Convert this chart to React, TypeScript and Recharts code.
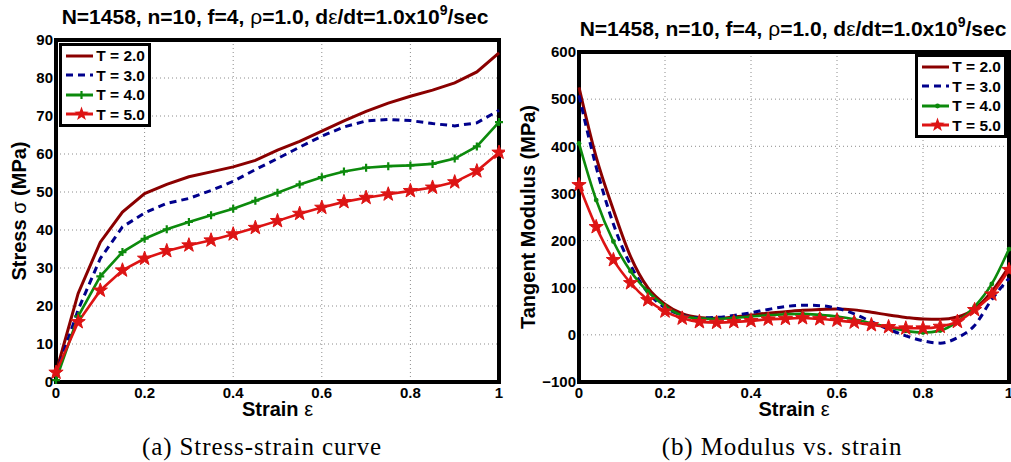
import React from "react";
import { CartesianGrid, Label, Legend, Line, LineChart, ReferenceArea, XAxis, YAxis } from "recharts";

// left panel: stress vs strain, sampled every 0.05
const strainA = [0, 0.05, 0.1, 0.15, 0.2, 0.25, 0.3, 0.35, 0.4, 0.45, 0.5, 0.55, 0.6, 0.65, 0.7, 0.75, 0.8, 0.85, 0.9, 0.95, 1];
const stressT2 = [2.5, 23.3, 36.8, 44.7, 49.6, 52, 54, 55.3, 56.6, 58.3, 61, 63.3, 66, 68.7, 71.2, 73.4, 75.2, 76.8, 78.7, 81.6, 86.6];
const stressT3 = [2, 19, 32.5, 40.8, 44.5, 47, 48.3, 50.4, 52.8, 55.9, 58.8, 61.8, 64.7, 67.1, 68.7, 69.1, 68.8, 68, 67.4, 68.2, 71.5];
const stressT4 = [0.5, 17.3, 27.8, 34.2, 37.7, 40.2, 42.1, 43.9, 45.6, 47.7, 49.8, 52, 53.9, 55.4, 56.4, 56.8, 57, 57.4, 58.8, 62, 68.4];
const stressT5 = [2.5, 15.8, 24.1, 29.4, 32.5, 34.5, 36, 37.3, 38.9, 40.6, 42.4, 44.3, 45.9, 47.4, 48.5, 49.4, 50.3, 51.2, 52.6, 55.5, 60.4];

// right panel: tangent modulus vs strain, sampled every 0.04
const strainB = [0, 0.04, 0.08, 0.12, 0.16, 0.2, 0.24, 0.28, 0.32, 0.36, 0.4, 0.44, 0.48, 0.52, 0.56, 0.6, 0.64, 0.68, 0.72, 0.76, 0.8, 0.84, 0.88, 0.92, 0.96, 1];
const modT2 = [525, 377, 265, 166, 100, 65, 45, 37, 35, 38, 42, 46, 49, 52, 54, 55, 53, 48, 42, 37, 33.5, 33, 38, 55, 92, 145];
const modT3 = [508, 356, 235, 148, 90, 58, 42, 36, 37, 41, 47, 54, 60, 63, 62, 56.5, 44.5, 28, 12, -2, -12.7, -17.6, -6, 20, 75, 120];
const modT4 = [406, 286, 198, 135, 92, 61, 41, 34.5, 33.6, 36, 38.8, 41.7, 43.8, 44.5, 42.3, 38.8, 33, 24.7, 16.3, 8.5, 5, 9, 28, 60, 108, 182];
const modT5 = [318, 229, 159, 110, 74, 50, 35, 27.5, 26, 27.5, 29.6, 33, 34.3, 35.7, 33.6, 30.8, 26.6, 21, 16.8, 14, 14, 17.5, 28, 53, 86, 138];

const xTicks = [0, 0.2, 0.4, 0.6, 0.8, 1];
const stressTicks = [0, 10, 20, 30, 40, 50, 60, 70, 80, 90];
const modulusTicks = [-100, 0, 100, 200, 300, 400, 500, 600];
const tempLabels = ["T = 2.0", "T = 3.0", "T = 4.0", "T = 5.0"];

const stressRows = strainA.map((x, i) => ({ x, t2: stressT2[i], t3: stressT3[i], t4: stressT4[i], t5: stressT5[i] }));
const modulusRows = strainB.map((x, i) => ({ x, t2: modT2[i], t3: modT3[i], t4: modT4[i], t5: modT5[i] }));

const DARK_RED = "#8a0000";
const NAVY = "#00008c";
const GREEN = "#0c8a0c";
const RED = "#dd1414";
const SANS = '"Liberation Sans", Arial, sans-serif';
const SERIF = '"Liberation Serif", "Times New Roman", serif';

const tickStyle = { fill: "#000", fontSize: 15, fontWeight: 700, fontFamily: SANS };

function starPoints(cx: number, cy: number, R: number, r: number) {
  const pts: string[] = [];
  for (let i = 0; i < 10; i++) {
    const a = -Math.PI / 2 + (i * Math.PI) / 5;
    const rad = i % 2 === 0 ? R : r;
    pts.push(`${(cx + rad * Math.cos(a)).toFixed(2)},${(cy + rad * Math.sin(a)).toFixed(2)}`);
  }
  return pts.join(" ");
}

const StarDot = (p: any) => {
  if (p.cx == null || p.cy == null) return <g key={p.index} />;
  return <polygon key={p.index} points={starPoints(p.cx, p.cy, 7.5, 3)} fill={RED} stroke={RED} strokeWidth={1} />;
};

const PlusDot = (p: any) => {
  if (p.cx == null || p.cy == null) return <g key={p.index} />;
  return (
    <path
      key={p.index}
      d={`M${p.cx - 4},${p.cy}H${p.cx + 4}M${p.cx},${p.cy - 4}V${p.cy + 4}`}
      stroke={GREEN}
      strokeWidth={2.2}
    />
  );
};

const SmallDot = (p: any) => {
  if (p.cx == null || p.cy == null) return <g key={p.index} />;
  return <circle key={p.index} cx={p.cx} cy={p.cy} r={2.4} fill={GREEN} />;
};

const titleText = { fontFamily: SANS, fontSize: 20, fill: "#000" };

const xTitle = (p: any) => {
  const vb = p.viewBox || { x: 0, y: 0, width: 0 };
  return (
    <text x={vb.x + vb.width / 2} y={vb.y + 34} textAnchor="middle" style={titleText}>
      <tspan fontWeight={700}>Strain </tspan>
      <tspan fontWeight={400}>ε</tspan>
    </text>
  );
};

const yTitle = (bold: string, greek: string, rest: string, base: number) => (p: any) => {
  const vb = p.viewBox || { x: 0, y: 0, height: 0 };
  const x = vb.x + base;
  const cy = vb.y + vb.height / 2;
  return (
    <text x={x} y={cy} transform={`rotate(-90 ${x} ${cy})`} textAnchor="middle" style={titleText}>
      <tspan fontWeight={700}>{bold}</tspan>
      {greek ? <tspan fontWeight={400}>{greek}</tspan> : null}
      <tspan fontWeight={700}>{rest}</tspan>
    </text>
  );
};

function Sample({ idx, dot }: { idx: number; dot: "plus" | "dot" }) {
  const colors = [DARK_RED, NAVY, GREEN, RED];
  return (
    <svg width={31} height={16} style={{ display: "block" }}>
      <line x1={0} y1={8} x2={31} y2={8} stroke={colors[idx]} strokeWidth={3} strokeDasharray={idx === 1 ? "7 5" : undefined} />
      {idx === 2 && dot === "plus" ? <path d="M11.5,8H19.5M15.5,4V12" stroke={GREEN} strokeWidth={2.2} /> : null}
      {idx === 2 && dot === "dot" ? <circle cx={15.5} cy={8} r={2.4} fill={GREEN} /> : null}
      {idx === 3 ? <polygon points={starPoints(15.5, 8, 7.5, 3)} fill={RED} /> : null}
    </svg>
  );
}

function LegendBox({ dot }: { dot: "plus" | "dot" }) {
  return (
    <div style={{ border: "3px solid #000", background: "#fff", padding: "0 3px 0 4px", width: 92, boxSizing: "border-box" as const }}>
      {tempLabels.map((t, i) => (
        <div key={t} style={{ display: "flex", alignItems: "center", height: 19.5 }}>
          <Sample idx={i} dot={dot} />
          <span style={{ marginLeft: 3, fontFamily: SANS, fontWeight: 700, fontSize: 15.5, lineHeight: "19px", whiteSpace: "nowrap" }}>{t}</span>
        </div>
      ))}
    </div>
  );
}

const Title = ({ left, top }: { left: number; top: number }) => (
  <div
    style={{
      position: "absolute",
      left,
      top,
      width: 480,
      textAlign: "center",
      fontFamily: SANS,
      fontWeight: 700,
      fontSize: 21,
      lineHeight: "22px",
      whiteSpace: "nowrap",
    }}
  >
    N=1458, n=10, f=4, <span style={{ fontWeight: 400 }}>ρ</span>=1.0, d<span style={{ fontWeight: 400 }}>ε</span>/dt=1.0x10
    <span style={{ fontSize: 14, position: "relative", top: -9 }}>9</span>/sec
  </div>
);

const Caption = ({ center, text }: { center: number; text: string }) => (
  <div
    style={{
      position: "absolute",
      left: center - 200,
      top: 434,
      width: 400,
      textAlign: "center",
      fontFamily: SERIF,
      fontSize: 25,
      lineHeight: "25px",
      letterSpacing: 0.9,
      whiteSpace: "nowrap",
    }}
  >
    {text}
  </div>
);

function StressChart() {
  return (
    <LineChart width={505} height={462} data={stressRows} margin={{ top: 40, right: 6, bottom: 50, left: 0 }}>
      <CartesianGrid stroke="#8c8c8c" strokeDasharray="1 3" />
      <XAxis
        type="number"
        dataKey="x"
        domain={[0, 1]}
        ticks={xTicks}
        interval={0}
        axisLine={false}
        tickLine={false}
        tickSize={4}
        tickMargin={1}
        tick={tickStyle}
        height={30}
      >
        <Label content={xTitle} />
      </XAxis>
      <YAxis
        type="number"
        domain={[0, 90]}
        ticks={stressTicks}
        interval={0}
        axisLine={false}
        tickLine={false}
        tickSize={2}
        tickMargin={1}
        tick={tickStyle}
        width={56}
      >
        <Label content={yTitle("Stress ", "σ", " (MPa)", 26)} />
      </YAxis>
      <ReferenceArea x1={0} x2={1} y1={0} y2={90} fill="none" stroke="#000" strokeWidth={4} />
      <Line dataKey="t2" type="linear" stroke={DARK_RED} strokeWidth={3} dot={false} isAnimationActive={false} />
      <Line dataKey="t3" type="linear" stroke={NAVY} strokeWidth={3} strokeDasharray="7 5" dot={false} isAnimationActive={false} />
      <Line dataKey="t4" type="linear" stroke={GREEN} strokeWidth={2.6} dot={PlusDot} isAnimationActive={false} />
      <Line dataKey="t5" type="linear" stroke={RED} strokeWidth={2.6} dot={StarDot} isAnimationActive={false} />
      <Legend
        layout="vertical"
        align="center"
        verticalAlign="middle"
        wrapperStyle={{ left: 59, top: 43, width: "auto" }}
        content={() => <LegendBox dot="plus" />}
      />
    </LineChart>
  );
}

function ModulusChart() {
  return (
    <LineChart width={506} height={462} data={modulusRows} margin={{ top: 52, right: 2, bottom: 50, left: 0 }}>
      <CartesianGrid stroke="#8c8c8c" strokeDasharray="1 3" />
      <XAxis
        type="number"
        dataKey="x"
        domain={[0, 1]}
        ticks={xTicks}
        interval={0}
        axisLine={false}
        tickLine={false}
        tickSize={4}
        tickMargin={1}
        tick={tickStyle}
        height={30}
      >
        <Label content={xTitle} />
      </XAxis>
      <YAxis
        type="number"
        domain={[-100, 600]}
        ticks={modulusTicks}
        interval={0}
        axisLine={false}
        tickLine={false}
        tickSize={2}
        tickMargin={1}
        tick={tickStyle}
        tickFormatter={(v: number) => (v < 0 ? "\u2212" + Math.abs(v) : String(v))}
        width={74}
      >
        <Label content={yTitle("Tangent Modulus (MPa)", "", "", 30)} />
      </YAxis>
      <ReferenceArea x1={0} x2={1} y1={-100} y2={600} fill="none" stroke="#000" strokeWidth={4} />
      <Line dataKey="t2" type="monotone" stroke={DARK_RED} strokeWidth={3} dot={false} isAnimationActive={false} />
      <Line dataKey="t3" type="monotone" stroke={NAVY} strokeWidth={3} strokeDasharray="7 5" dot={false} isAnimationActive={false} />
      <Line dataKey="t4" type="monotone" stroke={GREEN} strokeWidth={2.6} dot={SmallDot} isAnimationActive={false} />
      <Line dataKey="t5" type="monotone" stroke={RED} strokeWidth={2.6} dot={StarDot} isAnimationActive={false} />
      <Legend
        layout="vertical"
        align="center"
        verticalAlign="middle"
        wrapperStyle={{ left: 410, top: 54, width: "auto" }}
        content={() => <LegendBox dot="dot" />}
      />
    </LineChart>
  );
}

export default function App() {
  return (
    <div style={{ position: "absolute", left: 0, top: 0, width: 1011, height: 462, background: "#fff", overflow: "hidden" }}>
      <Title left={275 - 240} top={6} />
      <Title left={793 - 240} top={18} />
      <div style={{ position: "absolute", left: 0, top: 0 }}>
        <StressChart />
      </div>
      <div style={{ position: "absolute", left: 505, top: 0 }}>
        <ModulusChart />
      </div>
      <Caption center={262} text="(a) Stress-strain curve" />
      <Caption center={782} text="(b) Modulus vs. strain" />
    </div>
  );
}
